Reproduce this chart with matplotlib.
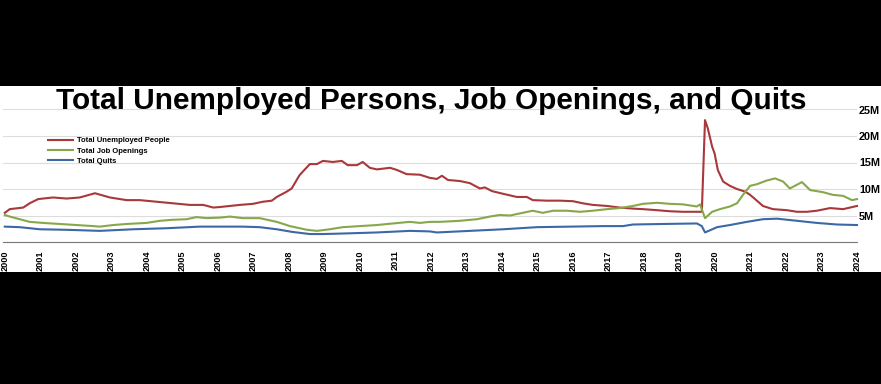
import matplotlib
matplotlib.use("Agg")
import matplotlib.pyplot as plt
from matplotlib.lines import Line2D
from matplotlib.patches import Rectangle

plt.rcParams['font.family'] = ['Liberation Sans', 'DejaVu Sans']

title = "Total Unemployed Persons, Job Openings, and Quits"
series_names = ["Total Unemployed People", "Total Job Openings", "Total Quits"]
year_labels = [str(y) for y in range(2000, 2025)]
ytick_vals = [5, 10, 15, 20, 25]
ytick_labels = ["5M", "10M", "15M", "20M", "25M"]

# Unemployed persons (millions)
unemp_x = [2000.0, 2000.14, 2000.52, 2000.70, 2000.94, 2001.36, 2001.74, 2002.11, 2002.54, 2002.96,
           2003.43, 2003.80, 2004.27, 2004.74, 2005.21, 2005.59, 2005.87, 2006.06, 2006.34, 2006.62,
           2006.99, 2007.27, 2007.52, 2007.66, 2007.94, 2008.08, 2008.30, 2008.59, 2008.79, 2008.96,
           2009.24, 2009.49, 2009.66, 2009.92, 2010.08, 2010.28, 2010.48, 2010.85, 2011.04, 2011.32,
           2011.69, 2011.97, 2012.17, 2012.31, 2012.48, 2012.82, 2013.10, 2013.38, 2013.52, 2013.72,
           2014.03, 2014.42, 2014.70, 2014.87, 2015.27, 2015.63, 2016.00, 2016.28, 2016.56, 2016.96,
           2017.32, 2017.69, 2017.97, 2018.37, 2018.73, 2019.10, 2019.52, 2019.63, 2019.72, 2019.80,
           2019.92, 2019.99, 2020.08, 2020.23, 2020.42, 2020.62, 2020.85, 2020.99, 2021.18, 2021.35,
           2021.63, 2022.03, 2022.31, 2022.59, 2022.87, 2023.24, 2023.61, 2024.0]
unemp_v = [5.5, 6.2, 6.5, 7.3, 8.1, 8.4, 8.2, 8.4, 9.2, 8.4,
           7.9, 7.9, 7.6, 7.3, 7.0, 7.0, 6.5, 6.6, 6.8, 7.0,
           7.2, 7.6, 7.8, 8.5, 9.5, 10.1, 12.6, 14.7, 14.7, 15.3,
           15.1, 15.3, 14.5, 14.5, 15.1, 14.0, 13.7, 14.0, 13.6, 12.8,
           12.7, 12.1, 11.9, 12.5, 11.7, 11.5, 11.1, 10.1, 10.3, 9.6,
           9.1, 8.5, 8.5, 7.9, 7.8, 7.8, 7.7, 7.3, 7.0, 6.8,
           6.5, 6.3, 6.2, 6.0, 5.8, 5.7, 5.7, 5.7, 23.0, 21.4,
           18.0, 16.7, 13.6, 11.4, 10.6, 10.0, 9.5, 8.9, 7.8, 6.8,
           6.2, 6.0, 5.7, 5.7, 5.9, 6.4, 6.2, 6.8]

# Job openings (millions)
open_x = [2000.0, 2000.14, 2000.42, 2000.70, 2001.08, 2001.55, 2002.02, 2002.49, 2002.68, 2003.05,
          2003.43, 2003.71, 2003.99, 2004.37, 2004.74, 2005.12, 2005.40, 2005.68, 2006.06, 2006.34,
          2006.70, 2007.18, 2007.66, 2008.03, 2008.51, 2008.79, 2009.15, 2009.52, 2010.00, 2010.48,
          2010.93, 2011.41, 2011.69, 2011.97, 2012.25, 2012.82, 2013.30, 2013.66, 2013.94, 2014.23,
          2014.51, 2014.87, 2015.15, 2015.44, 2015.83, 2016.20, 2016.56, 2016.96, 2017.32, 2017.69,
          2017.97, 2018.37, 2018.73, 2019.10, 2019.49, 2019.58, 2019.72, 2019.92, 2020.14, 2020.42,
          2020.62, 2020.79, 2020.99, 2021.18, 2021.46, 2021.69, 2021.92, 2022.11, 2022.45, 2022.68,
          2023.04, 2023.32, 2023.61, 2023.86, 2024.0]
open_v = [5.1, 4.8, 4.3, 3.8, 3.6, 3.4, 3.2, 3.0, 2.9, 3.2,
          3.4, 3.5, 3.6, 4.0, 4.2, 4.3, 4.7, 4.5, 4.6, 4.8,
          4.5, 4.5, 3.8, 3.0, 2.3, 2.1, 2.4, 2.8, 3.0, 3.2,
          3.5, 3.8, 3.6, 3.8, 3.8, 4.0, 4.3, 4.8, 5.1, 5.0,
          5.4, 5.9, 5.5, 5.9, 5.9, 5.7, 5.9, 6.2, 6.4, 6.8,
          7.2, 7.4, 7.2, 7.1, 6.7, 7.1, 4.5, 5.7, 6.2, 6.7,
          7.3, 8.9, 10.6, 10.9, 11.6, 12.0, 11.4, 10.1, 11.3, 9.8,
          9.4, 8.9, 8.7, 7.9, 8.1]

# Quits (millions)
quits_x = [2000.0, 2000.42, 2000.99, 2001.75, 2002.68, 2003.61, 2004.56, 2005.49, 2006.06, 2006.70,
           2007.18, 2007.66, 2008.10, 2008.59, 2008.96, 2009.52, 2010.48, 2011.41, 2011.97, 2012.17,
           2013.10, 2014.03, 2014.99, 2015.92, 2016.85, 2017.41, 2017.69, 2018.54, 2019.49, 2019.63,
           2019.72, 2020.06, 2020.42, 2020.90, 2021.35, 2021.75, 2022.31, 2022.87, 2023.44, 2024.0]
quits_v = [2.9, 2.8, 2.4, 2.3, 2.1, 2.4, 2.6, 2.9, 2.9, 2.9,
           2.8, 2.4, 1.9, 1.5, 1.5, 1.6, 1.8, 2.1, 2.0, 1.8,
           2.1, 2.4, 2.8, 2.9, 3.0, 3.0, 3.3, 3.4, 3.5, 3.0,
           1.8, 2.8, 3.2, 3.8, 4.3, 4.4, 4.0, 3.6, 3.3, 3.2]

colors = ["#a8383a", "#86a84a", "#3c68a6"]

W, H = 881, 384
fig = plt.figure(figsize=(W / 100, H / 100), dpi=100, facecolor="black")

# white panel (background axes)
bg = fig.add_axes([0, (H - 272) / H, 1, (272 - 86) / H], zorder=-5)
bg.set_facecolor("white")
bg.set_axis_off()
bg.add_patch(Rectangle((0, 0), 1, 1, transform=bg.transAxes, facecolor="white", edgecolor="none"))

px_per_m = 5.3
y0 = 242
ymax = 26
ax = fig.add_axes([3 / W, (H - y0) / H, 854 / W, ymax * px_per_m / H], zorder=1)
ax.set_facecolor("none")
ax.set_xlim(1999.95, 2024.0)
ax.set_ylim(0, ymax)

for x, v, c in zip([unemp_x, open_x, quits_x], [unemp_v, open_v, quits_v], colors):
    ax.plot(x, v, color=c, lw=1.5, solid_joinstyle="round", zorder=3, clip_on=False)

for s in ["top", "left", "right"]:
    ax.spines[s].set_visible(False)
ax.spines["bottom"].set_linestyle((0, (1, 1)))
ax.spines["bottom"].set_color("#777777")
ax.spines["bottom"].set_linewidth(0.8)

ax.set_yticks(ytick_vals)
ax.set_yticklabels(ytick_labels, fontsize=7.8, fontweight="bold")
ax.yaxis.tick_right()
ax.tick_params(axis="y", length=0, pad=1.5)
ax.yaxis.grid(True, color="#dcdcdc", lw=0.8)
ax.set_axisbelow(True)

ax.set_xticks(range(2000, 2025))
ax.set_xticklabels(year_labels, rotation=90, fontsize=6.6, fontweight="bold")
ax.tick_params(axis="x", length=0, pad=6)

fig.text(431 / W, 1 - 101 / H, title, ha="center", va="center",
         fontsize=21.4, fontweight="bold", color="black")

handles = [Line2D([], [], color=c, lw=1.5) for c in colors]
fig.legend(handles, series_names, loc="upper left",
           bbox_to_anchor=(48 / W, 1 - 137 / H), frameon=False,
           prop={"size": 5.5, "weight": "bold"}, handlelength=3.3,
           handletextpad=0.45, labelspacing=0.4, borderpad=0, borderaxespad=0)

fig.savefig("out.png", dpi=100, facecolor="black")
